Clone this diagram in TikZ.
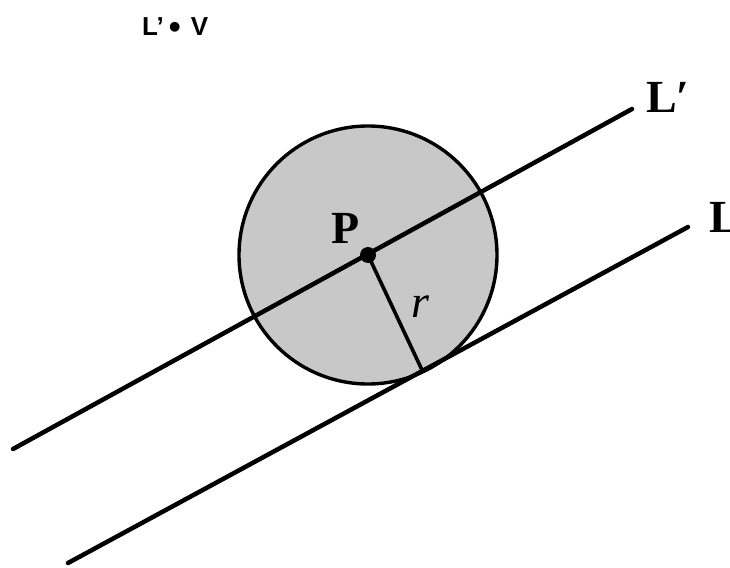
\documentclass[tikz,border=0pt]{standalone}
\usepackage{fontspec}
\setmainfont{Liberation Serif}
\newfontfamily\arialfont{Liberation Sans}
\begin{document}
\begin{tikzpicture}[x=1pt,y=-1pt,
  thickline/.style={line width=4.5pt,line cap=round},
  biglabel/.style={font=\fontsize{46}{46}\selectfont\bfseries,inner sep=0pt,anchor=base west}]
\useasboundingbox (0,0) rectangle (730,567);
\coordinate (P) at (368,255);
\coordinate (Lp1) at (13,449);
\coordinate (Lp2) at (632,109);
\coordinate (L1) at (68,563);
\coordinate (L2) at (688,227);
\coordinate (T) at (422,370);
\fill[fill={rgb,255:red,200;green,200;blue,200}] (P) circle[radius=129];
\draw[line width=3.4pt] (P) circle[radius=129];
\draw[thickline] (Lp1) -- (Lp2);
\draw[thickline] (L1) -- (L2);
\draw[line width=3.6pt] (P) -- (T);
\fill (P) circle[radius=8];
\node[anchor=base west,inner sep=0pt,font=\arialfont\fontsize{26}{26}\selectfont\bfseries] (title) at (142,36) {L’\kern5pt{\fontsize{34}{34}\selectfont\raisebox{-2.5pt}{•}}\kern10pt V};
\node[biglabel] (lplabel) at (646,113) {L′};
\node[biglabel] (llabel) at (709,232) {L};
\node[biglabel] (plabel) at (331,243) {P};
\node[biglabel,font=\fontsize{46}{46}\selectfont\itshape] (rlabel) at (411,317) {r};
\end{tikzpicture}
\end{document}
